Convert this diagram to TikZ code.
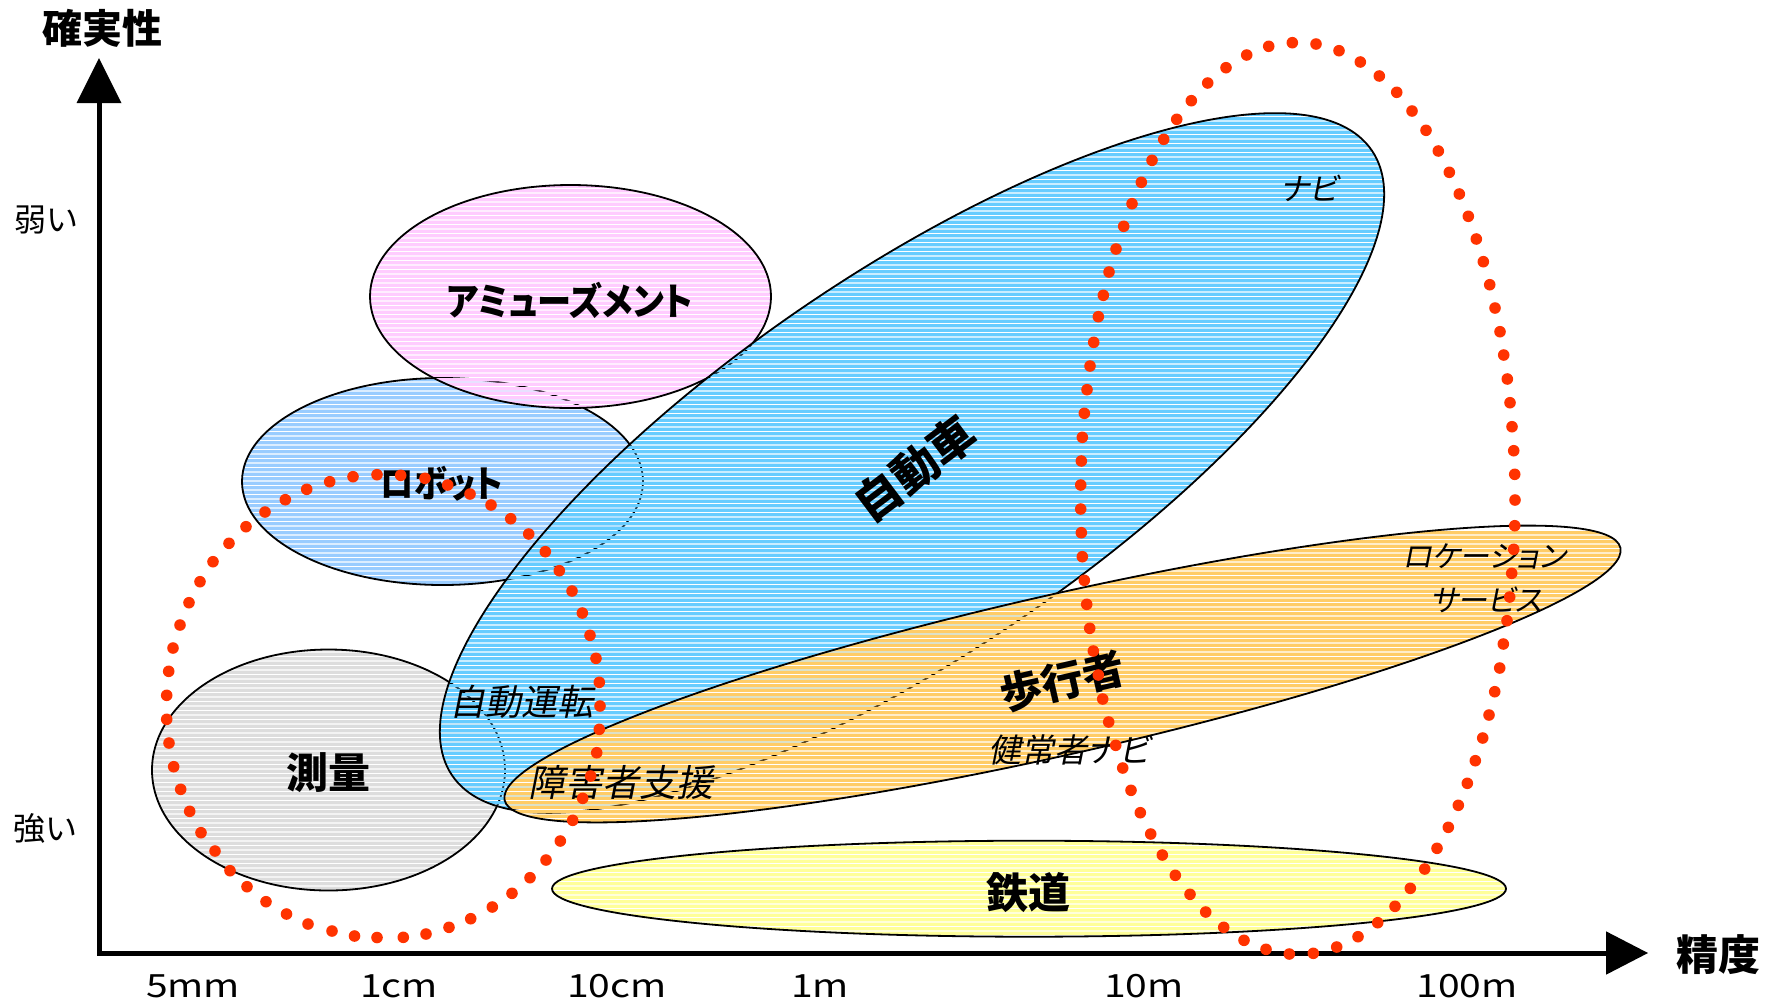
\documentclass[tikz,border=0pt]{standalone}
\usepackage{fontspec}
\setmainfont{Noto Sans CJK JP}[RawFeature=+palt]
\newfontfamily\jpit{Noto Sans CJK JP}[FakeSlant=0.2,RawFeature=+palt]
\definecolor{pinkc}{HTML}{FFCCFF}
\definecolor{robotc}{HTML}{99CCFF}
\definecolor{carc}{HTML}{66CCFF}
\definecolor{grayc}{HTML}{DDDDDD}
\definecolor{orangec}{HTML}{FFCC66}
\definecolor{yellowc}{HTML}{FFFF99}
\definecolor{dotc}{HTML}{FF3300}
\newcommand{\kanatext}[1]{\scalebox{0.9}[1]{#1}}
\newcommand{\widetext}[1]{\scalebox{1.22}[1]{#1}}
% colour, xmin, xmax, kmin, kmax : horizontal stripes at absolute heights
\newcommand{\stripeband}[5]{%
  \fill[#1] \foreach \k in {#4,...,#5} {(#2,\k*4.5) rectangle (#3,\k*4.5+3.4)};}
\tikzset{
  outline/.style={draw=black, line width=1.8pt},
  bl/.style={inner sep=0pt, font=\fontsize{#1}{#1}\selectfont\bfseries},
  rl/.style={inner sep=0pt, font=\fontsize{#1}{#1}\selectfont},
  il/.style={inner sep=0pt, font=\jpit\fontsize{#1}{#1}\selectfont},
  axisline/.style={line width=5pt, line join=miter},
  reddot/.style={fill=dotc}
}
\begin{document}
\begin{tikzpicture}[x=1pt,y=-1pt]
\useasboundingbox (0,0) rectangle (1776,1005);
% survey
\begin{scope}
  \clip (328.5,770) ellipse [x radius=176.5, y radius=120.5];
  \stripeband{grayc}{145}{510}{142}{200}
\end{scope}
\path[outline] (328.5,770) ellipse [x radius=176.5, y radius=120.5];
% robot
\begin{scope}
  \clip (442.5,481.5) ellipse [x radius=200.5, y radius=103.5];
  \stripeband{robotc}{235}{650}{82}{132}
\end{scope}
\path[outline] (442.5,481.5) ellipse [x radius=200.5, y radius=103.5];
% amusement
\begin{scope}
  \clip (570.5,296.5) ellipse [x radius=200.5, y radius=111.5];
  \stripeband{pinkc}{365}{776}{39}{93}
\end{scope}
\path[outline] (570.5,296.5) ellipse [x radius=200.5, y radius=111.5];
% car
\begin{scope}
  \clip[shift={(912,463)}, rotate=34.2] (0,0) ellipse [x radius=556, y radius=190];
  \stripeband{carc}{430}{1395}{22}{183}
\end{scope}
\path[outline, shift={(912,463)}, rotate=34.2] (0,0) ellipse [x radius=556, y radius=190];
% pedestrian
\begin{scope}
  \clip[shift={(1062.5,674)}, rotate=12.75] (0,0) ellipse [x radius=572, y radius=80];
  \stripeband{orangec}{495}{1630}{118}{182}
\end{scope}
\path[outline, shift={(1062.5,674)}, rotate=12.75] (0,0) ellipse [x radius=572, y radius=80];
% railway
\begin{scope}
  \clip (1029,888.7) ellipse [x radius=477, y radius=48];
  \stripeband{yellowc}{545}{1512}{185}{210}
\end{scope}
\path[outline] (1029,888.7) ellipse [x radius=477, y radius=48];
% axes
\coordinate (origin) at (99,953);
\coordinate (ybase) at (99,103);
\coordinate (ytip) at (99,58);
\coordinate (xbase) at (1606,953);
\coordinate (xtip) at (1648,953);
\draw[axisline] (ybase) -- (origin) -- (xbase);
\fill (ytip) -- ++(-22.5,45) -- ++(45,0) -- cycle;
\fill (xtip) -- ++(-42,-21.7) -- ++(0,43.4) -- cycle;
% axis labels
\node[bl=40] (ylab) at (102,28) {確実性};
\node[bl=42] (xlab) at (1718,955) {精度};
\node[rl=32] (weak) at (46,220) {弱い};
\node[rl=32] (strong) at (45,828) {強い};
\node[rl=32] (t1) at (193,986) {\widetext{5mm}};
\node[rl=32] (t2) at (399,986) {\widetext{1cm}};
\node[rl=32] (t3) at (617,986) {\widetext{10cm}};
\node[rl=32] (t4) at (820,986) {\widetext{1m}};
\node[rl=32] (t5) at (1144,986) {\widetext{10m}};
\node[rl=32] (t6) at (1467,986) {\widetext{100m}};
% region labels
\node[bl=38] (amuse) at (570,300) {\kanatext{アミューズメント}};
\node[bl=37] (robot) at (442,484) {\kanatext{ロボット}};
\node[bl=42] (survey) at (328,773) {測量};
\node[bl=46, rotate=37] (car) at (915,469) {自動車};
\node[bl=42, rotate=13] (walk) at (1062,681) {歩行者};
\node[bl=42] (rail) at (1028,893) {鉄道};
\node[il=36] (auto) at (521,702) {自動運転};
\node[il=37] (handi) at (621,782) {障害者支援};
\node[il=33] (healthy) at (1069,750) {健常者ナビ};
\node[il=31] (navi) at (1309,188) {ナビ};
\node[il=30] (loc1) at (1484,556) {ロケーション};
\node[il=30] (loc2) at (1486,600) {サービス};
% dotted loops
\foreach \x/\y in {201/832.7,215/851,230/870.7,247/886.7,266/901.7,286.5/914,308/924,332/931,354.5/936,377/937.5,403.3/937.3,426/934,449/927.3,470.7/918.7,492.3/907,512/893.3,530/877.7,546/860,560.3/841,572.7/820.3,582.7/798.3,590.7/776,596.7/752.7,599.3/729.3,600/706,599.3/682.3,596/658.3,590/635.3,582.3/613,572/591,559.3/570.7,545.3/551.7,528.7/534,510.7/518.7,491/505,470/494,447.7/485,425/478.3,400.7/475.3,377/474.7,353/476.7,329.7/481.7,306.7/489.3,285.3/499.7,265/512,246/526.7,229/543.3,213/561.7,200/581.7,189/602.7,180/625,173/648,168.7/671.3,166.7/695.3,166.7/719.3,169/743,173.7/766.7,180.7/789.3,189.7/811.3}
  \fill[reddot] (\x,\y) circle [radius=5.8pt];
\foreach \x/\y in {1098.3/316.7,1093.7/342.3,1090/366,1087/389.7,1084.3/413.3,1082.3/437.3,1081.3/461,1080.7/485,1080.7/509,1081.3/532.7,1082.3/556.7,1084.3/580.3,1086.7/604.3,1089.7/628.3,1093.3/651,1098.3/675,1102.7/699,1108.7/722,1115.7/745.3,1122.7/768,1131/790.3,1140.3/812.7,1150.7/834,1162.3/855,1175.3/875.3,1190/894.3,1205.7/912,1223.7/927.3,1244/940.3,1266/949.3,1289.3/954,1313.3/953.3,1336.7/947,1358/936.7,1377.7/922.7,1395/906.3,1410.3/888.3,1424.7/869,1437/848.3,1448.3/827.3,1458.3/805.3,1467.3/783.3,1475.3/760.7,1482.7/738,1489/715,1494.7/691.7,1499.7/668,1503.3/644,1507/620.7,1509.7/597,1511.7/573.3,1513.7/549.3,1514.7/525.7,1515/500,1514.7/474.3,1513.7/450.7,1512/426.7,1510/402.7,1507.3/379,1503.7/355,1500/331.7,1495/308,1489.7/284.7,1483.3/261.7,1476.3/239,1468.3/216.3,1459.3/194,1449.3/172.3,1438.3/151,1426/130.3,1412/111,1396.7/92.3,1379.3/76,1360.3/62,1339/50.7,1316/44,1292.3/42.7,1268.7/46.3,1246.7/55,1226/67.7,1207.7/83,1191.3/100.7,1176.7/119.3,1163.7/139.3,1152/160.3,1141.3/182.3,1132/203.7,1123.7/226.3,1116/249,1109/272,1103.3/295.3}
  \fill[reddot] (\x,\y) circle [radius=5.8pt];
\end{tikzpicture}
\end{document}
